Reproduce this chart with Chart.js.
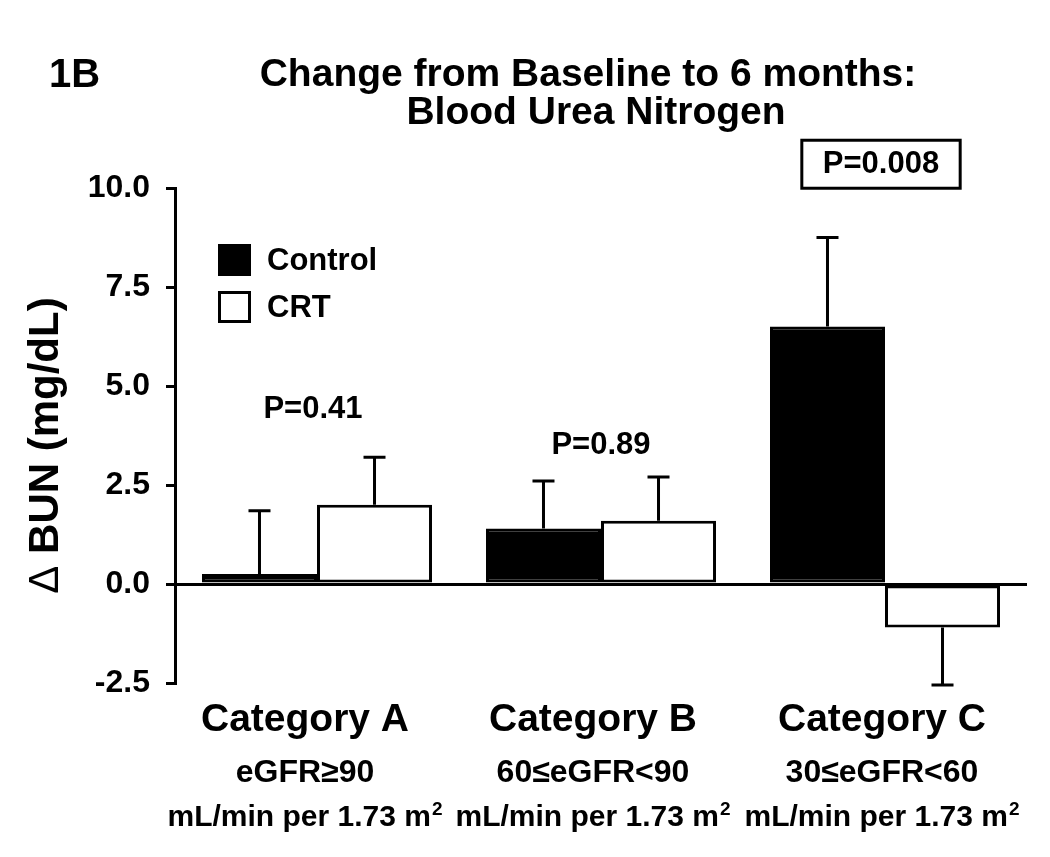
<!DOCTYPE html>
<html>
<head>
<meta charset="utf-8">
<title>Change from Baseline to 6 months: Blood Urea Nitrogen</title>
<script src="https://cdn.jsdelivr.net/npm/chart.js@4/dist/chart.umd.min.js"></script>
<style>
    html, body { margin: 0; padding: 0; background: #fff; }
</style>
</head>
<body>
<canvas id="bunChart" width="1050" height="857"></canvas>
<script>
// data
const categories = ['Category A', 'Category B', 'Category C'];
const gfrRanges = ['eGFR\u226590', '60\u2264eGFR<90', '30\u2264eGFR<60'];
const unitBase = 'mL/min per 1.73 m';
const unitSup = '2';
const seriesNames = ['Control', 'CRT'];
const controlValues = [0.25, 1.4, 6.5];
const controlErrors = [1.6, 1.2, 2.25];
const crtValues = [2.0, 1.6, -1.1];
const crtErrors = [1.2, 1.1, 1.45];
const pLabels = ['P=0.41', 'P=0.89', 'P=0.008'];
const yTicks = [-2.5, 0, 2.5, 5, 7.5, 10];

// where the p-values sit, in y units
const pLabelY = [4.4, 3.5, 10.6];
const boxedP = [false, false, true];
// labels under the axis are a little left of the bar pairs
const labelShift = [-12, -8, -3];

const FONT = '"Liberation Sans", Arial, Helvetica, sans-serif';

document.addEventListener("DOMContentLoaded", function () {
    const ctx = document.getElementById('bunChart').getContext('2d');

    const errorBars = {
        id: 'errorBars',
        afterDatasetsDraw(chart) {
            const c = chart.ctx;
            const yScale = chart.scales.y;
            c.save();
            c.strokeStyle = '#000';
            c.lineWidth = 3;
            chart.data.datasets.forEach(function (ds, di) {
                const meta = chart.getDatasetMeta(di);
                meta.data.forEach(function (bar, i) {
                    const v = ds.data[i];
                    const e = ds.errors[i];
                    const end = yScale.getPixelForValue(v >= 0 ? v + e : v - e);
                    const start = yScale.getPixelForValue(v);
                    c.beginPath();
                    c.moveTo(bar.x, start);
                    c.lineTo(bar.x, end);
                    c.moveTo(bar.x - 11, end);
                    c.lineTo(bar.x + 11, end);
                    c.stroke();
                });
            });
            c.restore();
        }
    };

    const decorations = {
        id: 'decorations',
        afterDraw(chart) {
            const c = chart.ctx;
            const xScale = chart.scales.x;
            const yScale = chart.scales.y;
            const area = chart.chartArea;
            c.save();
            c.fillStyle = '#000';
            c.strokeStyle = '#000';
            c.textBaseline = 'middle';

            // panel tag and title
            c.font = 'bold 40px ' + FONT;
            c.textAlign = 'left';
            c.fillText('1B', 49, 76);
            c.font = 'bold 39px ' + FONT;
            c.textAlign = 'center';
            c.fillText('Change from Baseline to 6 months:', 588, 75);
            c.fillText('Blood Urea Nitrogen', 596, 113);

            // y title: thin delta + bold text
            c.save();
            c.translate(46, (area.top + area.bottom) / 2 + 10);
            c.rotate(-Math.PI / 2);
            c.textAlign = 'left';
            c.font = '42px ' + FONT;
            const wDelta = c.measureText('\u0394').width;
            c.font = 'bold 42px ' + FONT;
            const rest = ' BUN (mg/dL)';
            const wRest = c.measureText(rest).width;
            const x0 = -(wDelta + wRest) / 2;
            c.font = '42px ' + FONT;
            c.fillText('\u0394', x0, 0);
            c.font = 'bold 42px ' + FONT;
            c.fillText(rest, x0 + wDelta, 0);
            c.restore();

            // legend
            c.lineWidth = 3;
            c.fillRect(218, 244, 33, 32);
            c.fillStyle = '#fff';
            c.fillRect(219.5, 292.5, 30, 29);
            c.strokeRect(219.5, 292.5, 30, 29);
            c.fillStyle = '#000';
            c.textAlign = 'left';
            c.font = 'bold 31px ' + FONT;
            c.fillText(seriesNames[0], 267, 261);
            c.fillText(seriesNames[1], 267, 308);

            // p-values
            pLabels.forEach(function (txt, i) {
                const x = xScale.getPixelForValue(i) - (i === 0 ? 4 : (i === 2 ? 4 : 0));
                const y = yScale.getPixelForValue(pLabelY[i]);
                c.font = 'bold 31px ' + FONT;
                c.textAlign = 'center';
                c.fillText(txt, x, y);
                if (boxedP[i]) {
                    const w = c.measureText(txt).width;
                    c.lineWidth = 3;
                    c.strokeRect(x - w / 2 - 21, y - 24, w + 42, 48);
                }
            });

            // category labels
            categories.forEach(function (cat, i) {
                const x = xScale.getPixelForValue(i) + labelShift[i];
                c.textAlign = 'center';
                c.font = 'bold 39px ' + FONT;
                c.fillText(cat, x, 720);
                c.font = 'bold 32px ' + FONT;
                c.fillText(gfrRanges[i], x, 773);
                // unit line with a raised 2
                c.font = 'bold 30px ' + FONT;
                const wb = c.measureText(unitBase).width;
                c.font = 'bold 19px ' + FONT;
                const ws = c.measureText(unitSup).width + 1;
                const left = x - (wb + ws) / 2;
                c.textAlign = 'left';
                c.font = 'bold 30px ' + FONT;
                c.fillText(unitBase, left, 818);
                c.font = 'bold 19px ' + FONT;
                c.fillText(unitSup, left + wb + 1, 810);
            });
            c.restore();
        }
    };

    new Chart(ctx, {
        type: 'bar',
        data: {
            labels: categories,
            datasets: [
                {
                    label: seriesNames[0],
                    data: controlValues,
                    errors: controlErrors,
                    backgroundColor: '#000',
                    borderColor: '#000',
                    borderWidth: 3,
                    borderSkipped: false
                },
                {
                    label: seriesNames[1],
                    data: crtValues,
                    errors: crtErrors,
                    backgroundColor: '#fff',
                    borderColor: '#000',
                    borderWidth: 3,
                    borderSkipped: false
                }
            ]
        },
        options: {
            responsive: false,
            animation: false,
            devicePixelRatio: 1,
            layout: {
                padding: { left: 0, right: 23, top: 188, bottom: 174 }
            },
            plugins: {
                legend: { display: false },
                tooltip: { enabled: false },
                title: { display: false }
            },
            datasets: {
                bar: {
                    categoryPercentage: 0.81,
                    barPercentage: 1.0
                }
            },
            scales: {
                x: {
                    display: false
                },
                y: {
                    min: -2.5,
                    max: 10,
                    afterFit: function (scale) {
                        scale.width = 175;
                    },
                    afterBuildTicks: function (scale) {
                        scale.ticks = yTicks.map(function (v) { return { value: v }; });
                    },
                    ticks: {
                        color: '#000',
                        padding: 16,
                        font: { family: FONT, size: 32, weight: 'bold' },
                        callback: function (v) { return Number(v).toFixed(1); }
                    },
                    grid: {
                        drawOnChartArea: true,
                        color: function (c) {
                            return c.tick && c.tick.value === 0 ? '#000' : 'rgba(0,0,0,0)';
                        },
                        lineWidth: 3,
                        tickColor: '#000',
                        tickLength: 9,
                        tickWidth: 3
                    },
                    border: { display: true, color: '#000', width: 3 }
                }
            }
        },
        plugins: [errorBars, decorations]
    });
});
</script>
</body>
</html>
